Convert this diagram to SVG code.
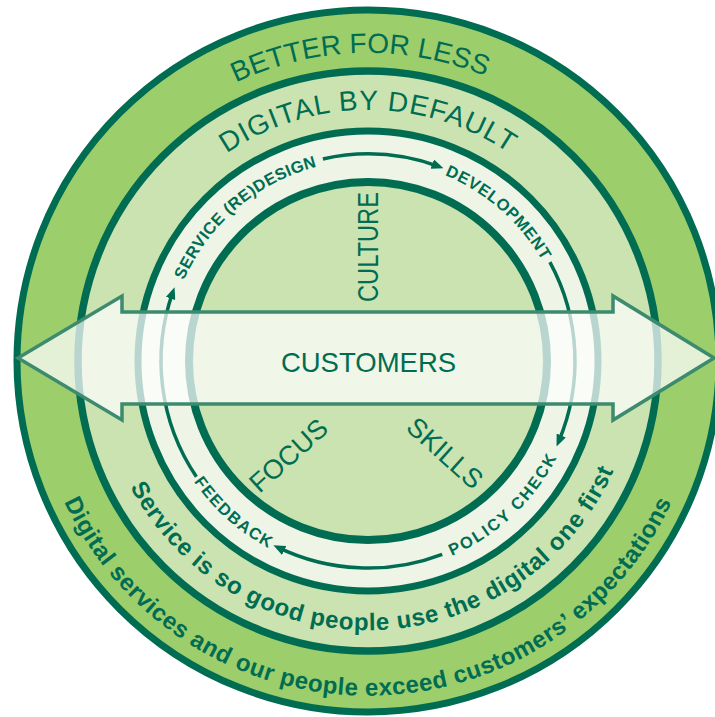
<svg xmlns="http://www.w3.org/2000/svg" width="715" height="717" viewBox="0 0 715 717">
  <defs>
    <style>
      .ring { stroke: #006d52; }
      .track { fill: none; stroke: #006d52; stroke-width: 3.5; marker-end: url(#head); }
      .lbl { fill: #006d52; font-family: "Liberation Sans", Arial, sans-serif; }
      .big { font-size: 28px; }
      .step { font-size: 16.5px; font-weight: bold; }
      .motto { font-size: 24px; font-weight: bold; }
      .band { fill: #ffffff; fill-opacity: 0.72; stroke: #3d8b6f; stroke-width: 3.5; stroke-linejoin: miter; }
    </style>
    <marker id="head" markerUnits="userSpaceOnUse" viewBox="0 0 12 10" markerWidth="12" markerHeight="10" refX="7" refY="5" orient="auto">
      <path d="M0,0 L12,5 L0,10 z" fill="#006d52"/>
    </marker>
    <!-- text baselines, all centred on (368,361) -->
    <path id="pBetter" d="M75.9,263.3 A308,308 0 0 1 654.6,248.1"/>
    <path id="pDigital" d="M132.1,275.2 A251,251 0 0 1 603.9,275.2"/>
    <path id="pService" d="M170.4,397.6 A201,201 0 0 1 435.1,171.5"/>
    <path id="pDevelop" d="M303.6,170.6 A201,201 0 0 1 565.1,400.4"/>
    <path id="pPolicy" d="M307.1,564.1 A212,212 0 0 0 574.3,312.2"/>
    <path id="pFeedback" d="M160.3,318.7 A212,212 0 0 0 435.3,562.0"/>
    <path id="pFirst" d="M100.0,384.4 A269,269 0 0 0 636.96,365.7"/>
    <path id="pExceed" d="M34.3,390.2 A335,335 0 0 0 701.7,390.2"/>
  </defs>

  <!-- concentric rings -->
  <g id="outer-ring">
    <circle class="ring" cx="368" cy="361" r="351" fill="#9dce6c" stroke-width="7"/>
    <text class="lbl big"><textPath href="#pBetter" startOffset="50%" text-anchor="middle">BETTER FOR LESS</textPath></text>
    <text class="lbl motto" letter-spacing="0.5"><textPath href="#pExceed" startOffset="50%" text-anchor="middle">Digital services and our people exceed customers’ expectations</textPath></text>
  </g>
  <g id="middle-ring">
    <circle class="ring" cx="368" cy="361" r="290" fill="#cae3b0" stroke-width="7.5"/>
    <text class="lbl big" font-size="27" letter-spacing="1"><textPath href="#pDigital" startOffset="50%" text-anchor="middle">DIGITAL BY DEFAULT</textPath></text>
    <text class="lbl motto" letter-spacing="0.7"><textPath href="#pFirst" startOffset="50%" text-anchor="middle">Service is so good people use the digital one first</textPath></text>
  </g>
  <g id="cycle-ring">
    <circle class="ring" cx="368" cy="361" r="230" fill="#eef5e6" stroke-width="7"/>
  </g>
  <g id="core">
    <circle class="ring" cx="368" cy="361" r="179" fill="#cae3b0" stroke-width="8"/>
    <text class="lbl" font-size="29" transform="translate(378,247) rotate(-90)" text-anchor="middle" textLength="110" lengthAdjust="spacingAndGlyphs">CULTURE</text>
    <text class="lbl" font-size="27" transform="translate(294.7,462.4) rotate(-42)" text-anchor="middle">FOCUS</text>
    <text class="lbl" font-size="27" transform="translate(438.8,459.9) rotate(42)" text-anchor="middle">SKILLS</text>
  </g>

  <!-- cycle steps -->
  <g id="step-service">
    <text class="lbl step" letter-spacing="0.4"><textPath href="#pService" startOffset="50%" text-anchor="middle">SERVICE (RE)DESIGN</textPath></text>
  </g>
  <g id="step-development">
    <text class="lbl step" letter-spacing="0.6"><textPath href="#pDevelop" startOffset="50%" text-anchor="middle">DEVELOPMENT</textPath></text>
  </g>
  <g id="step-policy">
    <text class="lbl step" letter-spacing="2"><textPath href="#pPolicy" startOffset="50%" text-anchor="middle">POLICY CHECK</textPath></text>
  </g>
  <g id="step-feedback">
    <text class="lbl step" letter-spacing="1.3"><textPath href="#pFeedback" startOffset="50%" text-anchor="middle">FEEDBACK</textPath></text>
  </g>

  <g id="connectors">
    <path class="track" d="M322.9,159.0 A207,207 0 0 1 438.8,166.5"/>
    <path class="track" d="M549.9,262.2 A207,207 0 0 1 558.5,441.9"/>
    <path class="track" d="M442.2,554.3 A207,207 0 0 1 277.9,547.4"/>
    <path class="track" d="M196.4,476.8 A207,207 0 0 1 172.9,291.9"/>
  </g>

  <!-- customers band across the whole model -->
  <g id="customers">
    <path class="band" d="M18,358 L122,296 L122,312 L613,312 L613,296 L714,358 L613,420 L613,404 L122,404 L122,420 Z"/>
    <text class="lbl" font-size="27.5" x="368.5" y="372" text-anchor="middle">CUSTOMERS</text>
  </g>
</svg>
